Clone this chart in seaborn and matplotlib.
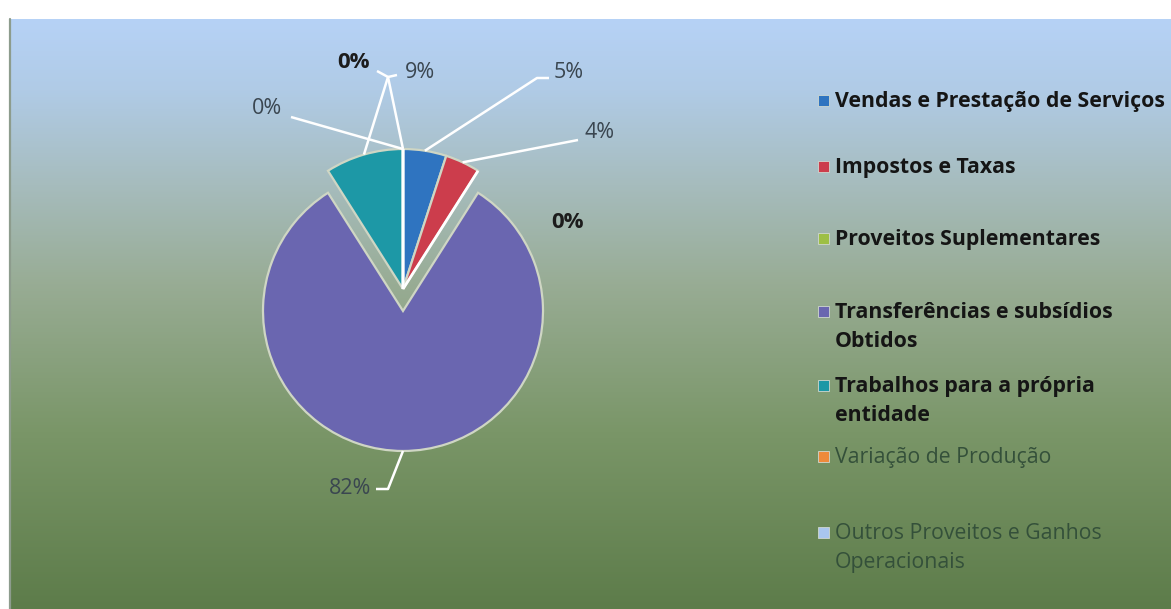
import numpy as np
import matplotlib
matplotlib.use("Agg")
import matplotlib.pyplot as plt
from matplotlib.lines import Line2D
from matplotlib.patches import Rectangle
from matplotlib.colors import LinearSegmentedColormap
import seaborn as sns

# ---- data ----
categories = [
    "Vendas e Prestação de Serviços",
    "Impostos e Taxas",
    "Proveitos Suplementares",
    "Transferências e subsídios\nObtidos",
    "Trabalhos para a própria\nentidade",
    "Variação de Produção",
    "Outros Proveitos e Ganhos\nOperacionais",
]
shares = [5, 4, 0, 82, 9, 0, 0]
slice_colors = ["#2f74c0", "#cc3d4c", "#9dbf45", "#6a66b0", "#1d98a6", "#ee8a3a", "#a9c6ee"]

sns.set_theme(style="white")
plt.rcParams["font.family"] = ["Open Sans", "DejaVu Sans"]

W, H = 1171, 609
fig = plt.figure(figsize=(W / 100, H / 100), dpi=100, facecolor="white")

# ---- gradient panel behind everything ----
bg = fig.add_axes([9 / W, 0, 1 - 9 / W, (H - 19) / H])
bg_cmap = LinearSegmentedColormap.from_list(
    "panel",
    [(0.0, "#5d7c4a"), (0.3, "#7a9668"), (0.55, "#98ac94"),
     (0.72, "#a6bcbd"), (0.88, "#b0cbe6"), (1.0, "#b6d2f6")],
)
bg.imshow(np.linspace(0, 1, 256)[:, None], aspect="auto", cmap=bg_cmap,
          origin="lower", extent=[0, 1, 0, 1])
bg.set_axis_off()
fig.add_artist(Line2D([9.5 / W, 9.5 / W], [0, (H - 19) / H], color="#8d9c8d",
                      lw=1.6, transform=fig.transFigure))

# ---- pie ----
CX, CY, R = 403, 289, 140          # pie centre / radius in pixels
HALF = 1.5                          # half-width of pie axes in data units
ax = fig.add_axes([(CX - HALF * R) / W, (H - CY - HALF * R) / H,
                   2 * HALF * R / W, 2 * HALF * R / H])
explode = [0.157 if s == max(shares) else 0 for s in shares]
wedges, _ = ax.pie(shares, colors=slice_colors, startangle=90, counterclock=False,
                   explode=explode, radius=1,
                   wedgeprops=dict(edgecolor="#cfd6c4", linewidth=1.6))
for w, s in zip(wedges, shares):
    if s == 0:
        w.set_edgecolor("white")
        w.set_linewidth(2)
ax.set_xlim(-HALF, HALF)
ax.set_ylim(-HALF, HALF)
ax.set_aspect("equal")
ax.set_axis_off()


def px(x, y):
    """figure pixel (top-left origin) -> pie data coordinates"""
    return (x - CX) / R, (CY - y) / R


def wedge_anchor(w):
    mid = np.deg2rad((w.theta1 + w.theta2) / 2)
    cx, cy = w.center
    return cx + w.r * np.cos(mid), cy + w.r * np.sin(mid)


# label placement: (text centre, leader bends, bold)
label_layout = [
    ((569, 72), [(537, 78), (549, 78)], False),
    ((600, 133), [(578, 140)], False),
    ((568, 223), [], True),
    ((350, 489), [(388, 489), (376, 489)], False),
    ((420, 72), [(388, 77), (397, 75)], False),
    ((354, 63), [(388, 77), (377, 71)], True),
    ((267, 108), [(291, 117)], False),
]

for w, s, (tpos, bends, bold) in zip(wedges, shares, label_layout):
    if bends:
        pts = [wedge_anchor(w)] + [px(*b) for b in bends]
        xs, ys = zip(*pts)
        ax.plot(xs, ys, color="white", lw=1.8, solid_capstyle="butt",
                clip_on=False, zorder=3)
    tx, ty = px(*tpos)
    ax.text(tx, ty, f"{s}%", ha="center", va="center",
            fontsize=16 if bold else 15.5,
            fontweight="bold" if bold else "normal",
            color="#1c1c1c" if bold else "#3a4650", clip_on=False, zorder=4)

# ---- legend ----
leg_baselines = [107, 173, 245, 318, 392, 463, 539]
line_gap = 29
for i, (lab, col, yb) in enumerate(zip(categories, slice_colors, leg_baselines)):
    fig.add_artist(Rectangle((818 / W, (H - yb + 1) / H), 11 / W, 11 / H,
                             facecolor=col, edgecolor="#d0d8d0", lw=0.6,
                             transform=fig.transFigure))
    strong = i < 5
    for k, line in enumerate(lab.split("\n")):
        fig.text(835 / W, (H - yb - k * line_gap) / H, line, ha="left",
                 va="baseline", fontsize=15.3,
                 fontweight="bold" if strong else "normal",
                 color="#151515" if strong else "#34503a")

fig.savefig("out.png", dpi=100, facecolor="white")
